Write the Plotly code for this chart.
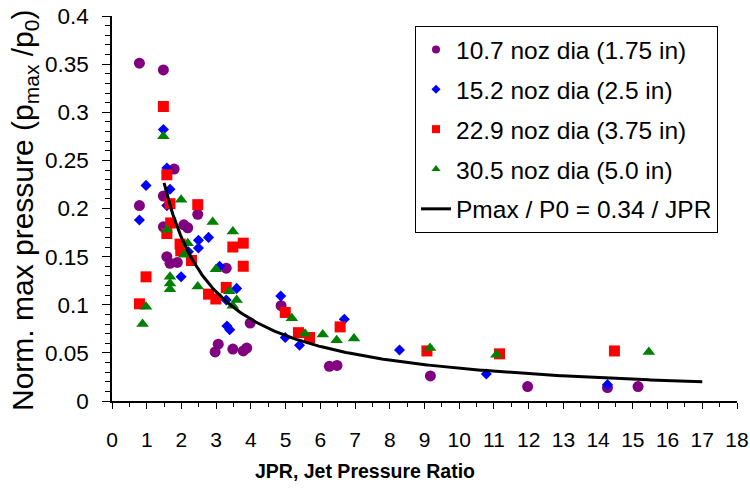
import numpy as np
import plotly.graph_objects as go

# ---- data ----
jpr_107 = [0.79, 1.48, 1.79, 1.48, 0.79, 2.47, 1.48, 2.07, 2.18, 1.58, 1.67, 1.88, 3.29, 3.98,
           3.06, 2.97, 3.48, 3.78, 3.88, 4.87, 6.26, 6.48, 9.17, 11.97, 14.27, 15.15]
p_107 = [0.351, 0.344, 0.241, 0.213, 0.203, 0.194, 0.181, 0.183, 0.180, 0.150, 0.143, 0.144, 0.138, 0.081,
         0.059, 0.051, 0.054, 0.052, 0.055, 0.099, 0.036, 0.037, 0.026, 0.015, 0.014, 0.015]

jpr_152 = [1.48, 1.58, 0.98, 1.67, 1.58, 0.79, 2.49, 2.49, 2.78, 2.20, 1.99, 3.10, 3.59, 3.29,
           3.31, 3.39, 4.86, 4.99, 5.40, 6.69, 8.28, 10.78, 14.27]
p_152 = [0.282, 0.242, 0.224, 0.220, 0.203, 0.188, 0.167, 0.159, 0.170, 0.155, 0.129, 0.140, 0.117, 0.105,
         0.078, 0.074, 0.109, 0.066, 0.058, 0.085, 0.053, 0.028, 0.017]

jpr_229 = [1.48, 1.58, 1.67, 2.47, 1.69, 1.58, 1.96, 1.98, 2.29, 0.98, 0.79, 3.48, 3.78, 3.78,
           3.29, 2.78, 2.99, 4.99, 5.37, 5.69, 6.57, 9.07, 11.16, 14.47]
p_229 = [0.306, 0.235, 0.205, 0.204, 0.185, 0.174, 0.163, 0.156, 0.146, 0.129, 0.101, 0.160, 0.164, 0.140,
         0.118, 0.111, 0.106, 0.092, 0.071, 0.066, 0.077, 0.052, 0.049, 0.052]

jpr_305 = [1.48, 1.99, 2.90, 1.58, 3.48, 2.18, 2.08, 2.99, 1.67, 1.67, 1.67, 2.47, 3.38, 3.59,
           3.48, 0.98, 0.88, 5.18, 5.56, 6.07, 6.47, 6.97, 9.16, 11.07, 15.46]
p_305 = [0.275, 0.209, 0.186, 0.178, 0.176, 0.164, 0.152, 0.137, 0.129, 0.122, 0.116, 0.119, 0.114, 0.105,
         0.099, 0.098, 0.080, 0.086, 0.070, 0.069, 0.063, 0.065, 0.055, 0.048, 0.051]

fit_coef = 0.34
fit_start, fit_end = 1.5, 17.0

series_names = ["10.7 noz dia (1.75 in)", "15.2 noz dia (2.5 in)",
                "22.9 noz dia (3.75 in)", "30.5 noz dia (5.0 in)"]
fit_name = "Pmax / P0 = 0.34 / JPR"

x_ticks = list(range(0, 19))
y_ticks = [0, 0.05, 0.1, 0.15, 0.2, 0.25, 0.3, 0.35, 0.4]
y_ticklabels = ["0", "0.05", "0.1", "0.15", "0.2", "0.25", "0.3", "0.35", "0.4"]

x_title = "JPR, Jet Pressure Ratio"
y_title = "Norm. max pressure (p<sub>max</sub> /p<sub>0</sub>)"

# ---- figure ----
FONT = "Liberation Sans, Arial, sans-serif"
fig = go.Figure()

styles = [
    dict(symbol="circle", color="#800080", size=11),
    dict(symbol="diamond", color="#0000FF", size=8.5),
    dict(symbol="square", color="#FF0000", size=11),
    dict(symbol="triangle-up", color="#008000", size=11),
]
xs = [jpr_107, jpr_152, jpr_229, jpr_305]
ys = [p_107, p_152, p_229, p_305]

for i, (x, y, st, nm) in enumerate(zip(xs, ys, styles, series_names)):
    fig.add_trace(go.Scatter(x=x, y=y, mode="markers", name=nm, showlegend=False,
                             marker=dict(symbol=st["symbol"], color=st["color"], size=st["size"],
                                         line=dict(width=0))))

xf = np.linspace(fit_start, fit_end, 300)
fig.add_trace(go.Scatter(x=xf, y=fit_coef / xf, mode="lines", name=fit_name, showlegend=False,
                         line=dict(color="black", width=3)))

# legend-only entries with smaller symbols
legend_sizes = [8, 7, 8, 8]
for i, (st, nm) in enumerate(zip(styles, series_names)):
    fig.add_trace(go.Scatter(x=[None], y=[None], mode="markers", name=nm, legendgroup=f"g{i}",
                             marker=dict(symbol=st["symbol"], color=st["color"], size=legend_sizes[i])))
fig.add_trace(go.Scatter(x=[None], y=[None], mode="lines", name=fit_name, legendgroup="g4",
                         line=dict(color="black", width=3)))

fig.update_layout(
    width=750, height=491,
    margin=dict(l=112, r=13, t=16, b=90),
    paper_bgcolor="white", plot_bgcolor="white",
    font=dict(family=FONT, color="black", size=20),
    legend=dict(x=0.4848, y=0.974, xanchor="left", yanchor="top",
                bordercolor="black", borderwidth=1, bgcolor="white",
                font=dict(size=24.5, family=FONT), tracegroupgap=5,
                itemwidth=30),
    showlegend=True,
    annotations=[
        dict(text="<b>" + x_title + "</b>", xref="paper", yref="paper",
             x=(365 - 112) / 625, y=-(471 - 401) / 385, xanchor="center", yanchor="middle",
             showarrow=False, font=dict(size=19.5, family=FONT, color="black")),
        dict(text=y_title, xref="paper", yref="paper", textangle=-90,
             x=(24 - 112) / 625, y=(401 - 211) / 385, xanchor="center", yanchor="middle",
             showarrow=False, font=dict(size=30, family=FONT, color="black")),
    ],
)
fig.update_xaxes(
    range=[0, 18], tickmode="array", tickvals=x_ticks, ticktext=[str(t) for t in x_ticks],
    automargin=False,
    showline=True, linecolor="black", linewidth=1.5, mirror=False, showgrid=False, zeroline=False,
    ticks="outside", ticklen=6, tickcolor="black", tickwidth=1,
    minor=dict(ticks="outside", dtick=0.5, ticklen=4, tickcolor="black", tickwidth=1, showgrid=False),
    ticklabelstandoff=13,
    tickfont=dict(size=21, family=FONT),
)
fig.update_yaxes(
    range=[0, 0.4], tickmode="array", tickvals=y_ticks, ticktext=y_ticklabels,
    automargin=False,
    showline=True, linecolor="black", linewidth=1.5, showgrid=False, zeroline=False,
    ticks="outside", ticklen=8, tickcolor="black", tickwidth=1,
    minor=dict(ticks="outside", dtick=0.01, ticklen=5, tickcolor="black", tickwidth=1, showgrid=False),
    ticklabelstandoff=9,
    tickfont=dict(size=22.5, family=FONT),
)

fig.write_html("out.html")
